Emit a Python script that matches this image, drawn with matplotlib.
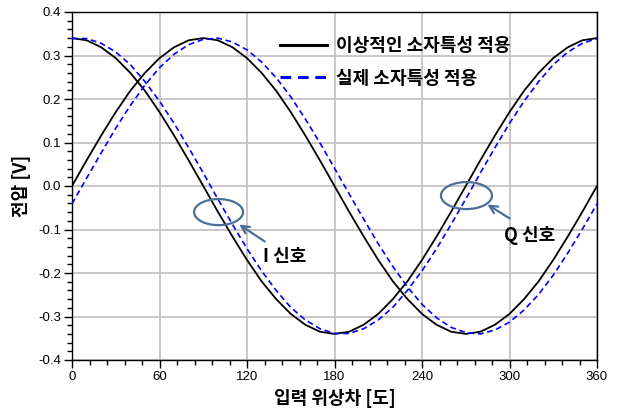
import numpy as np
import matplotlib
matplotlib.use('Agg')
import matplotlib.pyplot as plt
from matplotlib.patches import Ellipse
from matplotlib.ticker import MultipleLocator

# 입력 위상차 (도)
phase = [0, 10, 20, 30, 40, 50, 60, 70, 80, 90, 100, 110, 120, 130, 140, 150, 160, 170, 180,
         190, 200, 210, 220, 230, 240, 250, 260, 270, 280, 290, 300, 310, 320, 330, 340, 350, 360]

# 이상적인 소자특성 - I / Q 신호 (V)
ideal_i = [0.340, 0.335, 0.319, 0.294, 0.260, 0.219, 0.170, 0.116, 0.059, 0.000,
           -0.059, -0.116, -0.170, -0.219, -0.260, -0.294, -0.319, -0.335, -0.340,
           -0.335, -0.319, -0.294, -0.260, -0.219, -0.170, -0.116, -0.059, 0.000,
           0.059, 0.116, 0.170, 0.219, 0.260, 0.294, 0.319, 0.335, 0.340]
ideal_q = [0.000, 0.059, 0.116, 0.170, 0.219, 0.260, 0.294, 0.319, 0.335, 0.340,
           0.335, 0.319, 0.294, 0.260, 0.219, 0.170, 0.116, 0.059, 0.000,
           -0.059, -0.116, -0.170, -0.219, -0.260, -0.294, -0.319, -0.335, -0.340,
           -0.335, -0.319, -0.294, -0.260, -0.219, -0.170, -0.116, -0.059, 0.000]

# 실제 소자특성 - I / Q 신호 (V)
real_i = [0.339, 0.339, 0.328, 0.308, 0.279, 0.240, 0.195, 0.144, 0.088, 0.030,
          -0.030, -0.088, -0.144, -0.195, -0.240, -0.279, -0.308, -0.328, -0.339,
          -0.339, -0.328, -0.308, -0.279, -0.240, -0.195, -0.144, -0.088, -0.030,
          0.030, 0.088, 0.144, 0.195, 0.240, 0.279, 0.308, 0.328, 0.339]
real_q = [-0.041, 0.018, 0.076, 0.133, 0.185, 0.232, 0.272, 0.303, 0.325, 0.337,
          0.340, 0.331, 0.313, 0.285, 0.249, 0.205, 0.154, 0.099, 0.041,
          -0.018, -0.076, -0.133, -0.185, -0.232, -0.272, -0.303, -0.325, -0.337,
          -0.340, -0.331, -0.313, -0.285, -0.249, -0.205, -0.154, -0.099, -0.041]

yticks = [-0.4, -0.3, -0.2, -0.1, 0.0, 0.1, 0.2, 0.3, 0.4]

KR = ['Noto Sans CJK KR', 'DejaVu Sans']
NUM = 'Liberation Sans'
EDGE = '#4a6f97'

fig = plt.figure(figsize=(6.18, 4.08), dpi=100)
ax = fig.add_axes([72/618, 48/408, 525/618, 348/408])

ax.plot(phase, ideal_i, color='black', lw=1.3, label='이상적인 소자특성 적용', zorder=3)
ax.plot(phase, ideal_q, color='black', lw=1.3, zorder=3)
ax.plot(phase, real_i, color='blue', lw=1.2, ls=(0, (3.5, 2.2)), label='실제 소자특성 적용', zorder=3)
ax.plot(phase, real_q, color='blue', lw=1.2, ls=(0, (3.5, 2.2)), zorder=3)

ax.set_xlim(0, 360)
ax.set_ylim(-0.4, 0.4)
ax.xaxis.set_major_locator(MultipleLocator(60))
ax.xaxis.set_minor_locator(MultipleLocator(12))
ax.yaxis.set_minor_locator(MultipleLocator(0.02))
ax.set_yticks(yticks)
ax.set_yticklabels(['%.1f' % v for v in yticks])
ax.tick_params(which='major', direction='out', length=6, width=1, pad=2,
               labelsize=9.5, top=False, right=False)
ax.tick_params(which='minor', direction='out', length=3.5, width=1, top=False, right=False)
for lab in ax.get_xticklabels() + ax.get_yticklabels():
    lab.set_family(NUM)
ax.grid(True, which='major', color='#c4c4c4', lw=1.3, zorder=0)
for s in ax.spines.values():
    s.set_linewidth(1.0)

ax.set_xlabel('입력 위상차 [도]', family=KR, fontsize=13, fontweight='bold', labelpad=4)
ax.set_ylabel('전압 [V]', family=KR, fontsize=13, fontweight='bold', labelpad=5)

# I / Q 신호 표시
ax.add_patch(Ellipse((100.5, -0.060), 33.6, 0.060, fill=False, ec=EDGE, lw=1.6, zorder=4))
ax.add_patch(Ellipse((270.5, -0.022), 35.0, 0.062, fill=False, ec=EDGE, lw=1.6, zorder=4))
ax.annotate('', xy=(113.1, -0.085), xytext=(133.7, -0.131),
            arrowprops=dict(arrowstyle='->', color=EDGE, lw=1.6, mutation_scale=14))
ax.annotate('', xy=(283.2, -0.039), xytext=(301.7, -0.078),
            arrowprops=dict(arrowstyle='->', color=EDGE, lw=1.6, mutation_scale=14))
ax.text(131, -0.163, 'I 신호', family=KR, fontsize=13, fontweight='bold', va='center', ha='left')
ax.text(296, -0.113, 'Q 신호', family=KR, fontsize=13, fontweight='bold', va='center', ha='left')

leg = ax.legend(loc='upper left', bbox_to_anchor=(280/618, 1 - 36/408),
                bbox_transform=fig.transFigure, frameon=False, borderpad=0,
                borderaxespad=0, handlelength=2.6, handletextpad=0.5, labelspacing=0.75,
                prop={'family': KR, 'size': 13, 'weight': 'bold'})
for line in leg.get_lines():
    line.set_linewidth(2.2)

fig.savefig('out.png', dpi=100)
